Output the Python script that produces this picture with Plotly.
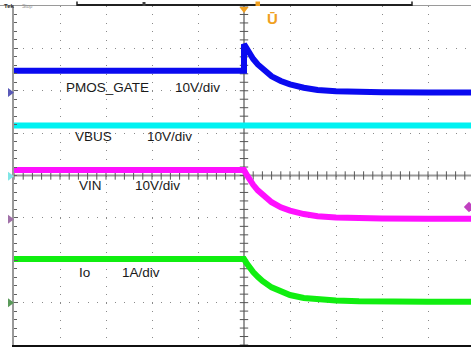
import plotly.graph_objects as go

# ---------------- data (time in divisions, values in physical units) ----------------
t_vbus = [-5.0, 0.0, 4.935]
vbus_v = [12.0, 12.0, 12.0]

t_step = [-5.0, 0.0, 0.05, 0.1, 0.2, 0.3, 0.4, 0.6, 0.8, 1.0, 1.3, 1.6, 2.0, 2.5, 3.0, 4.0, 4.935]
pmos_v = [5.1, 11.4, 10.4, 9.5, 7.9, 6.6, 5.5, 3.8, 2.7, 1.9, 1.1, 0.6, 0.3, 0.1, 0.05, 0.0, 0.0]
pmos_pre = 5.1
vin_v = [11.6, 11.6, 10.6, 9.7, 8.1, 6.8, 5.7, 4.0, 2.8, 2.0, 1.2, 0.7, 0.4, 0.2, 0.15, 0.1, 0.1]
io_a = [1.03, 1.03, 0.94, 0.86, 0.72, 0.61, 0.51, 0.36, 0.26, 0.18, 0.11, 0.07, 0.05, 0.03, 0.02, 0.02, 0.02]

channels = ["PMOS_GATE", "VBUS", "VIN", "Io"]
scales = ["10V/div", "10V/div", "10V/div", "1A/div"]
per_div = [10.0, 10.0, 10.0, 1.0]
ground = [1.96, -0.02, -1.03, -3.0]

# ---------------- geometry helpers ----------------
W, H = 471, 347
L, R, T, B = 14, 0, 6, 2
PW, PH = W - L - R, H - T - B
XR = [-5.0, (W - L) / 46.0 - 5.0]
YR = [-4.0, 4.0]


def px_x(x):
    return (x - L) / PW


def px_y(y):
    return 1 - (y - T) / PH


def dx(x):
    return XR[0] + (x - L) / PW * (XR[1] - XR[0])


def dy(y):
    return YR[1] - (y - T) / PH * (YR[1] - YR[0])


fig = go.Figure()

# centre crosshair with minor ticks
minor_y = [round(-4 + 0.2 * k, 2) for k in range(41)]
minor_x = [round(-5 + 0.2 * k, 2) for k in range(50)]
fig.add_shape(type="line", x0=0, x1=0, y0=-4, y1=4, line=dict(color="#9a9a9a", width=2), layer="below")
fig.add_shape(type="line", x0=XR[0], x1=XR[1], y0=0, y1=0, line=dict(color="#9a9a9a", width=2), layer="below")
fig.add_trace(go.Scatter(x=[0] * len(minor_y), y=minor_y, mode="markers", hoverinfo="skip",
                         marker=dict(symbol="line-ew", size=6, line=dict(color="#555555", width=1))))
fig.add_trace(go.Scatter(x=minor_x, y=[0] * len(minor_x), mode="markers", hoverinfo="skip",
                         marker=dict(symbol="line-ns", size=6, line=dict(color="#555555", width=1))))

# traces
def disp(vals, i):
    return [ground[i] + v / per_div[i] for v in vals]

fig.add_trace(go.Scatter(x=[t_step[0], 0.0] + t_step[1:], y=disp([pmos_pre, pmos_pre] + pmos_v[1:], 0),
                         mode="lines", line=dict(color="#0a0af0", width=6), hoverinfo="skip"))
fig.add_trace(go.Scatter(x=t_vbus, y=disp(vbus_v, 1), mode="lines",
                         line=dict(color="#00f2f2", width=6), hoverinfo="skip"))
fig.add_trace(go.Scatter(x=t_step, y=disp(vin_v, 2), mode="lines",
                         line=dict(color="#ff10ff", width=6), hoverinfo="skip"))
fig.add_trace(go.Scatter(x=t_step, y=disp(io_a, 3), mode="lines",
                         line=dict(color="#10ee10", width=6), hoverinfo="skip"))

# channel ground markers on the left (triangles in the margin)
mk_colors = ["#5a5ab8", "#80e6e6", "#a070a8", "#5a9a5a"]
for g, c in zip(ground, mk_colors):
    yc = 1 - (YR[1] - g) / (YR[1] - YR[0])
    h = 4.5 / PH
    fig.add_shape(type="path", xref="paper", yref="paper",
                  path=f"M {px_x(8)} {yc + h} L {px_x(14)} {yc} L {px_x(8)} {yc - h} Z",
                  fillcolor=c, line=dict(width=0))
# trigger level diamond (right) and trigger position (top)
fig.add_trace(go.Scatter(x=[dx(469)], y=[dy(207)], mode="markers", cliponaxis=False, hoverinfo="skip",
                         marker=dict(symbol="diamond", size=8, color="#c040c0")))
fig.add_trace(go.Scatter(x=[0], y=[dy(9)], mode="markers", cliponaxis=False, hoverinfo="skip",
                         marker=dict(symbol="triangle-down", size=8, color="#f0a020")))

# top record bar
fig.add_shape(type="line", xref="paper", yref="paper", x0=px_x(0), x1=1, y0=px_y(5.5), y1=px_y(5.5),
              line=dict(color="#9a9a9a", width=1))
fig.add_shape(type="line", xref="paper", yref="paper", x0=px_x(77), x1=px_x(412), y0=px_y(5), y1=px_y(5),
              line=dict(color="#202020", width=2))
for xe in (77, 412):
    fig.add_shape(type="line", xref="paper", yref="paper", x0=px_x(xe), x1=px_x(xe), y0=px_y(1.5), y1=px_y(6),
                  line=dict(color="#202020", width=1.5))
fig.add_shape(type="rect", xref="paper", yref="paper", x0=px_x(142.5), x1=px_x(145.5), y0=px_y(2), y1=px_y(6),
              fillcolor="#404040", line=dict(width=0))
fig.add_shape(type="rect", xref="paper", yref="paper", x0=px_x(255.5), x1=px_x(260), y0=px_y(1.5), y1=px_y(6),
              fillcolor="#f0a020", line=dict(width=0))

# labels
font = "Liberation Sans, Arial, sans-serif"
label_pos = [((64, 87), (173, 87)), ((73, 136), (145, 136)), ((77, 185), (133, 185)), ((77, 272), (120, 272))]
for i in range(4):
    (x1, y1), (x2, y2) = label_pos[i]
    fig.add_annotation(x=px_x(x1), y=px_y(y1), xref="paper", yref="paper", text=channels[i], showarrow=False,
                       xanchor="left", yanchor="middle", font=dict(family=font, size=13.5, color="#1a1a1a"))
    fig.add_annotation(x=px_x(x2), y=px_y(y2), xref="paper", yref="paper", text=scales[i], showarrow=False,
                       xanchor="left", yanchor="middle", font=dict(family=font, size=13.5, color="#1a1a1a"))

fig.add_annotation(x=px_x(272.5), y=px_y(19), xref="paper", yref="paper", text="<b>Ū</b>", showarrow=False,
                   xanchor="center", yanchor="middle", font=dict(family=font, size=15, color="#f0a020"))
fig.add_annotation(x=px_x(2), y=px_y(1), xref="paper", yref="paper", text="<b>Tek</b>", showarrow=False,
                   xanchor="left", yanchor="top", font=dict(family=font, size=6, color="#303030"))
fig.add_annotation(x=px_x(20), y=px_y(1), xref="paper", yref="paper", text="Stop", showarrow=False,
                   xanchor="left", yanchor="top", font=dict(family=font, size=5, color="#909090"))

fig.update_layout(
    width=W, height=H, autosize=False,
    margin=dict(l=L, r=R, t=T, b=B, pad=0),
    paper_bgcolor="white", plot_bgcolor="white",
    showlegend=False,
    xaxis=dict(range=XR, tickvals=[-4, -3, -2, -1, 1, 2, 3, 4], showticklabels=False, ticks="",
               showgrid=True, gridcolor="#8a8a8a", gridwidth=1, griddash="1px,7.475px",
               zeroline=False, showline=True, linecolor="#101010", linewidth=2, fixedrange=True),
    yaxis=dict(range=YR, tickvals=[-3, -2, -1, 1, 2, 3], showticklabels=False,
               ticks="inside", ticklen=4, tickcolor="#606060", tickwidth=1,
               minor=dict(dtick=0.2, tick0=0, ticks="inside", ticklen=3, tickcolor="#606060", showgrid=False),
               showgrid=True, gridcolor="#8a8a8a", gridwidth=1, griddash="1px,8.2px",
               zeroline=False, showline=True, linecolor="#9a9a9a", linewidth=2, fixedrange=True),
)

fig.write_html("out.html")
